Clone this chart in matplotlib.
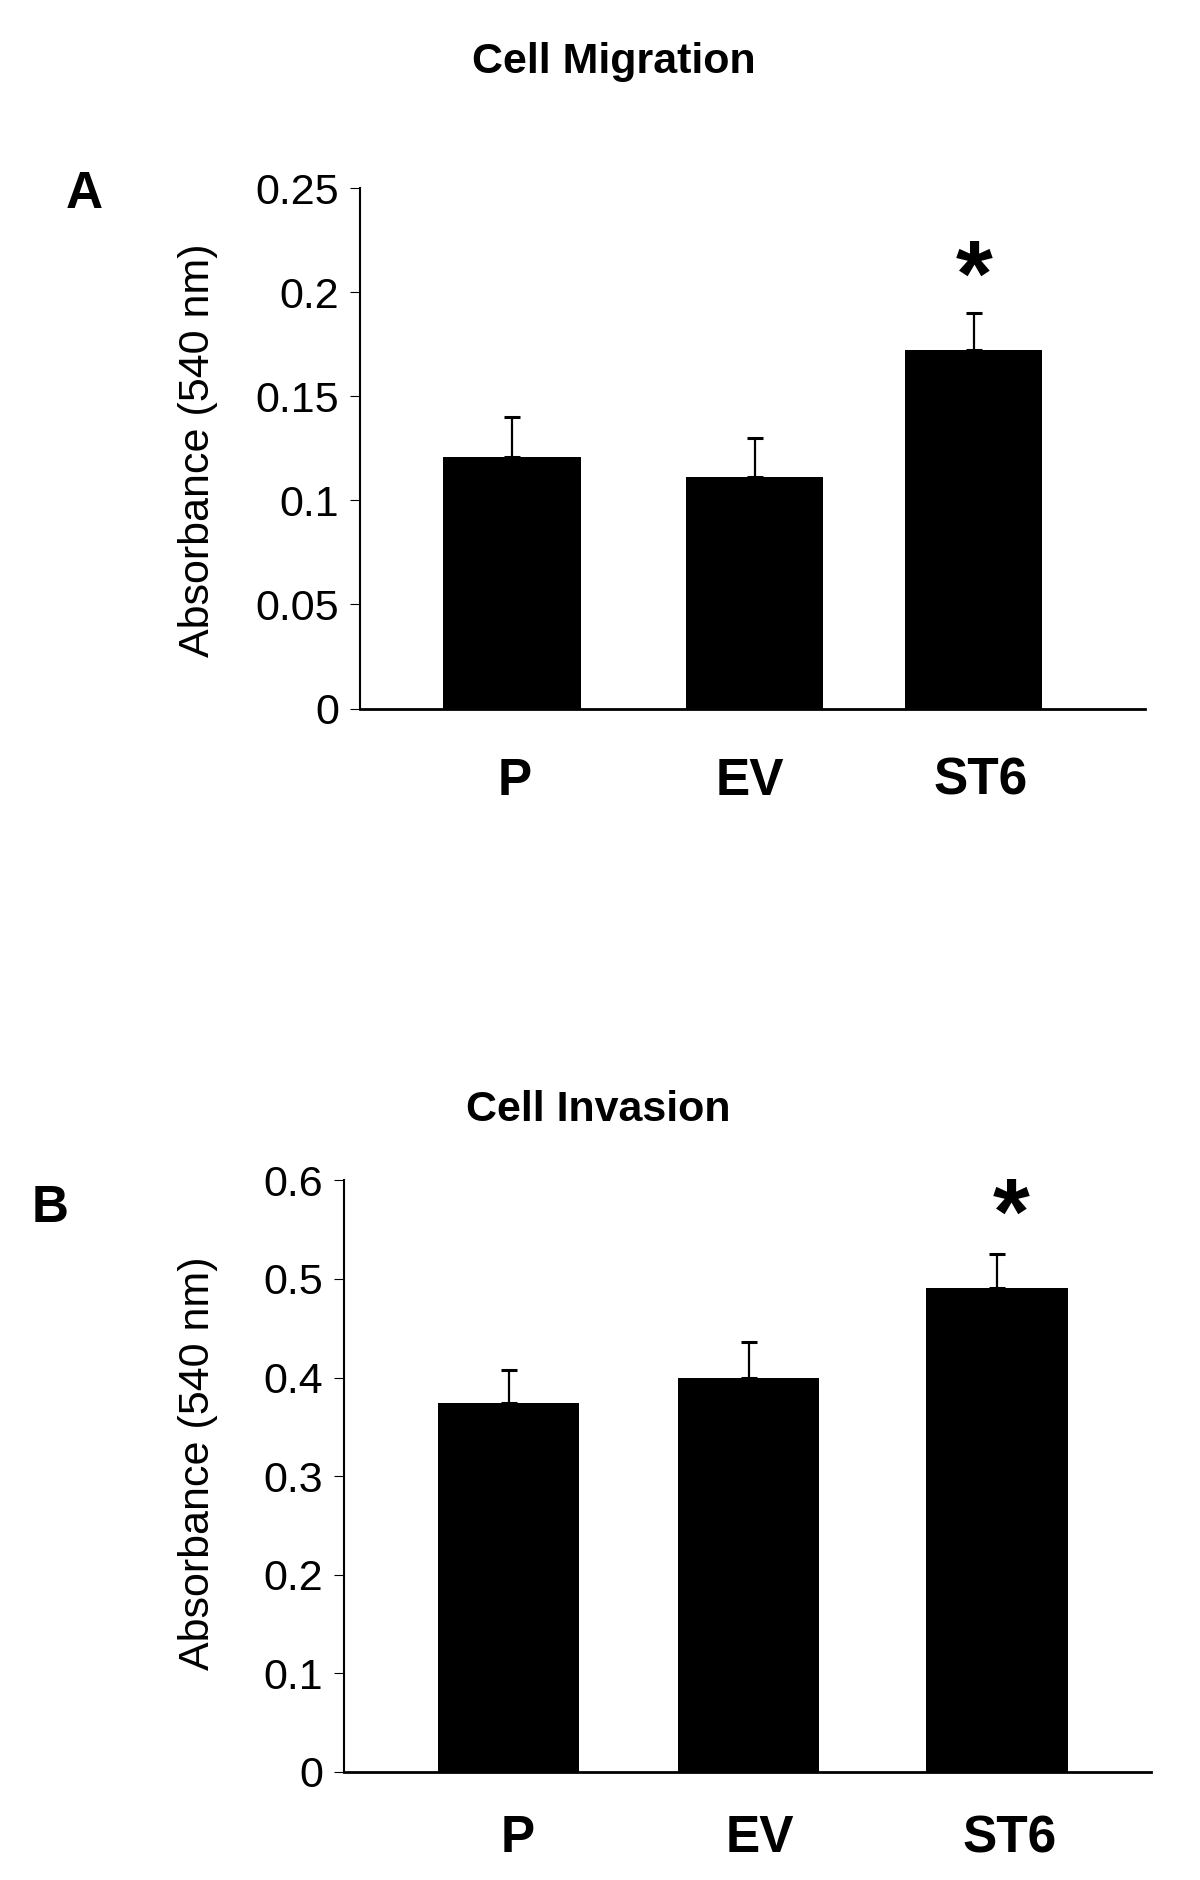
import matplotlib
matplotlib.use("Agg")
import matplotlib.pyplot as plt

plt.rcParams['font.family'] = ['Liberation Sans', 'DejaVu Sans']

# ---- data ----
categories = ["P", "EV", "ST6"]
migration_values = [0.121, 0.111, 0.172]
migration_errors = [0.019, 0.019, 0.018]
invasion_values = [0.374, 0.400, 0.491]
invasion_errors = [0.034, 0.036, 0.034]
migration_ticks = [0, 0.05, 0.1, 0.15, 0.2, 0.25]
migration_ticklabels = ["0", "0.05", "0.1", "0.15", "0.2", "0.25"]
invasion_ticks = [0, 0.1, 0.2, 0.3, 0.4, 0.5, 0.6]
invasion_ticklabels = ["0", "0.1", "0.2", "0.3", "0.4", "0.5", "0.6"]
significant = [False, False, True]

# ---- layout ----
W, H = 1200, 1880
fig = plt.figure(figsize=(W / 100, H / 100), dpi=100)

def frac_rect(left, right, top, bottom):
    return [left / W, 1 - bottom / H, (right - left) / W, (bottom - top) / H]

axA = fig.add_axes(frac_rect(360, 1145, 188, 708.6))
axB = fig.add_axes(frac_rect(344, 1151, 1180.4, 1771.9))

posA = [0, 1, 1.904]
posB = [0, 1, 2.035]

def draw(ax, pos, vals, errs, ticks, ticklabels, ylim, xlim, width, star_off, label_xy,
         lab_dy, label_dx):
    ax.bar(pos, vals, width=width, color="black", edgecolor="none", zorder=2)
    ax.errorbar(pos, vals, yerr=[[0] * len(vals), errs], fmt="none", ecolor="black",
                elinewidth=1.6, capsize=5.5, capthick=2.2, zorder=3)
    for x, v, e, s in zip(pos, vals, errs, significant):
        if s:
            ax.annotate("*", xy=(x, v + e), xytext=star_off, textcoords="offset points",
                        ha="center", va="center", fontsize=68, fontweight="bold")
    ax.set_ylim(*ylim)
    ax.set_xlim(*xlim)
    ax.set_yticks(ticks)
    ax.set_yticklabels(ticklabels)
    ax.set_xticks([])
    for x, lab, dx in zip(pos, categories, label_dx):
        ax.annotate(lab, xy=(x, 0), xycoords=("data", "axes fraction"),
                    xytext=(dx, -lab_dy), textcoords="offset points",
                    ha="center", va="baseline", fontsize=37, fontweight="bold",
                    annotation_clip=False)
    for sp in ["top", "right"]:
        ax.spines[sp].set_visible(False)
    ax.spines["left"].set_linewidth(1.5)
    ax.spines["bottom"].set_linewidth(2.0)
    ax.tick_params(axis="y", direction="out", length=7, width=0.8, labelsize=31, pad=8)
    ax.set_ylabel("Absorbance (540 nm)", fontsize=31)
    ax.yaxis.set_label_coords(label_xy[0], label_xy[1])

draw(axA, posA, migration_values, migration_errors, migration_ticks, migration_ticklabels,
     (0, 0.25), (-0.6266, 2.609), 0.565, (0, 23), (-0.181, 0.497), 62, [1.8, -3.5, 4.9])
draw(axB, posB, invasion_values, invasion_errors, invasion_ticks, invasion_ticklabels,
     (0, 0.6), (-0.6865, 2.677), 0.588, (10, 25), (-0.156, 0.522), 58, [6.7, 8.1, 9.4])

fig.text(614 / W, 1 - 62 / H, "Cell Migration", ha="center", va="center",
         fontsize=31, fontweight="bold")
fig.text(598 / W, 1 - 1110 / H, "Cell Invasion", ha="center", va="center",
         fontsize=31, fontweight="bold")
fig.text(84 / W, 1 - 195 / H, "A", ha="center", va="center", fontsize=37, fontweight="bold")
fig.text(50 / W, 1 - 1208 / H, "B", ha="center", va="center", fontsize=37, fontweight="bold")

fig.savefig("out.png", dpi=100)
